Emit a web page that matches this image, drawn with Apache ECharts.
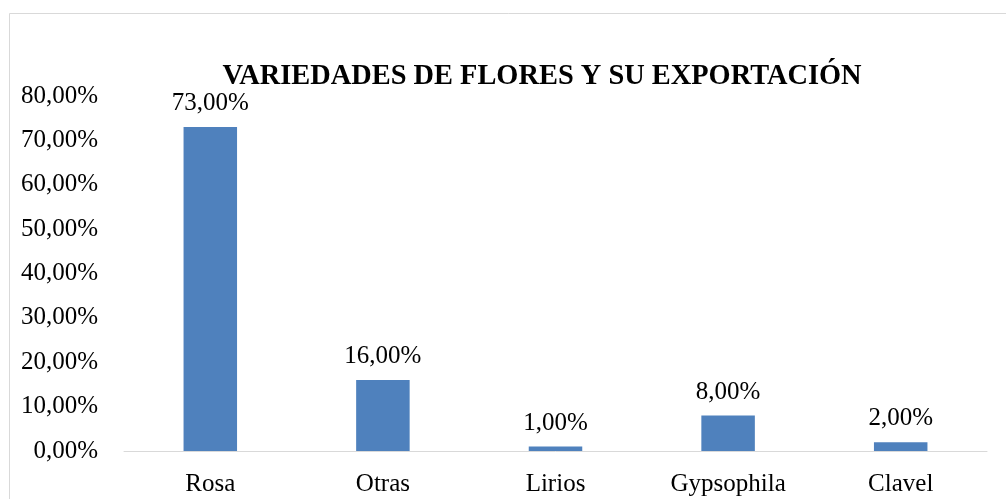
<!DOCTYPE html>
<html>
<head>
<meta charset="utf-8">
<script src="https://cdn.jsdelivr.net/npm/echarts@6/dist/echarts.min.js"></script>
<style>
  html, body { margin: 0; padding: 0; background: #fff; }
  #chart { width: 1006px; height: 499px; }
</style>
</head>
<body>
<div id="chart"></div>
<script>
// datos
var categorias = ["Rosa", "Otras", "Lirios", "Gypsophila", "Clavel"];
var porcentajes = [73, 16, 1, 8, 2];
var ejeMax = 80, ejeIntervalo = 10;

function fmt(v) {
  return v.toFixed(2).replace(".", ",") + "%";
}

var myChart = echarts.init(document.getElementById("chart"));
var fuente = "'Liberation Serif', 'Times New Roman', serif";

var option = {
  animation: false,
  backgroundColor: "#fff",
  title: {
    text: "VARIEDADES DE FLORES Y SU EXPORTACIÓN",
    left: 537,
    top: 58,
    textAlign: "center",
    textStyle: { fontFamily: fuente, fontWeight: "bold", fontSize: 28.4, color: "#000" }
  },
  graphic: [{
    type: "rect",
    shape: { x: 9.5, y: 13.5, width: 1100, height: 600 },
    style: { fill: "none", stroke: "#D9D9D9", lineWidth: 1 },
    silent: true
  }],
  grid: { left: 124, right: 19, top: 96, bottom: 48 },
  xAxis: {
    type: "category",
    data: categorias,
    axisLine: { lineStyle: { color: "#D9D9D9", width: 1 } },
    axisTick: { show: false },
    axisLabel: { fontFamily: fuente, fontSize: 25, color: "#000", margin: 21 }
  },
  yAxis: {
    type: "value",
    min: 0,
    max: ejeMax,
    interval: ejeIntervalo,
    splitLine: { show: false },
    axisLine: { show: false },
    axisTick: { show: false },
    axisLabel: {
      fontFamily: fuente, fontSize: 25, color: "#000", margin: 26,
      formatter: function (v) { return fmt(v); }
    }
  },
  series: [{
    type: "bar",
    data: porcentajes,
    barWidth: "31%",
    itemStyle: { color: "#4F81BD" },
    label: {
      show: true,
      position: "top",
      distance: 11,
      fontFamily: fuente, fontSize: 25, color: "#000",
      formatter: function (p) { return fmt(p.value); }
    }
  }]
};
myChart.setOption(option);
</script>
</body>
</html>
